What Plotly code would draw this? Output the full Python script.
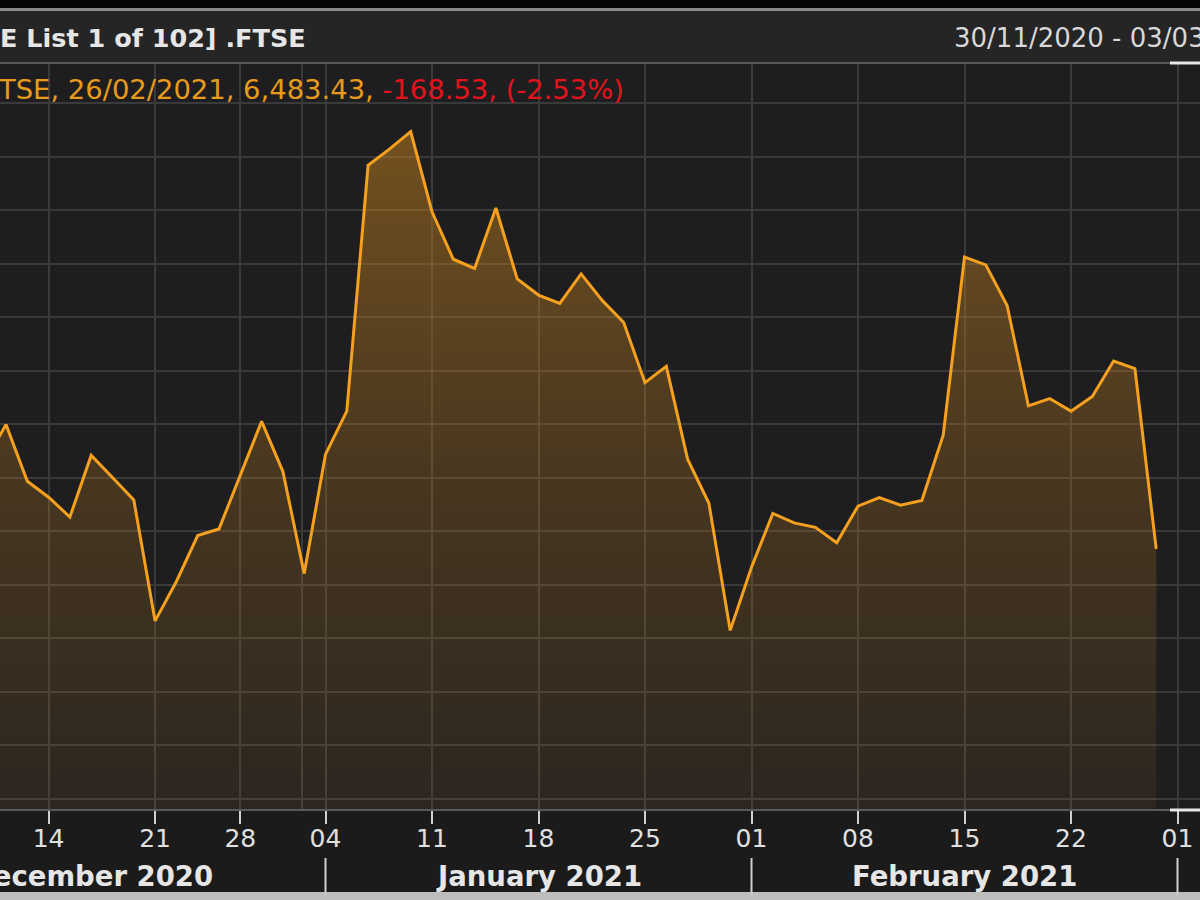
import plotly.graph_objects as go

# ---------------- data ----------------
dates = [
    "2020-12-09", "2020-12-10", "2020-12-11", "2020-12-14", "2020-12-15", "2020-12-16",
    "2020-12-17", "2020-12-18", "2020-12-21", "2020-12-22", "2020-12-23", "2020-12-24",
    "2020-12-28", "2020-12-29", "2020-12-30", "2020-12-31", "2021-01-04", "2021-01-05",
    "2021-01-06", "2021-01-07", "2021-01-08", "2021-01-11", "2021-01-12", "2021-01-13",
    "2021-01-14", "2021-01-15", "2021-01-18", "2021-01-19", "2021-01-20", "2021-01-21",
    "2021-01-22", "2021-01-25", "2021-01-26", "2021-01-27", "2021-01-28", "2021-01-29",
    "2021-02-01", "2021-02-02", "2021-02-03", "2021-02-04", "2021-02-05", "2021-02-08",
    "2021-02-09", "2021-02-10", "2021-02-11", "2021-02-12", "2021-02-15", "2021-02-16",
    "2021-02-17", "2021-02-18", "2021-02-19", "2021-02-22", "2021-02-23", "2021-02-24",
    "2021-02-25", "2021-02-26", "2021-03-01",
]
closes = [
    6564.29, 6599.76, 6546.75, 6531.83, 6513.32, 6570.91,
    6550.23, 6529.18, 6416.32, 6453.16, 6495.99, 6502.11,
    None, 6602.65, 6555.82, 6460.52, 6571.88, 6612.25,
    6841.86, 6856.96, 6873.26, 6798.48, 6754.11, 6745.52,
    6801.96, 6735.71, 6720.65, 6712.95, 6740.39, 6715.42,
    6695.07, 6638.85, 6654.01, 6567.37, 6526.15, 6407.46,
    6466.42, 6516.65, 6507.83, 6503.66, 6489.33, 6523.53,
    6531.57, 6524.36, 6528.72, 6589.79, 6756.11, 6748.86,
    6710.90, 6617.15, 6624.02, 6612.24, 6625.94, 6659.01,
    6651.96, 6483.43, None,
]
tick_dates = ["2020-12-14", "2020-12-21", "2020-12-28", "2021-01-04", "2021-01-11",
              "2021-01-18", "2021-01-25", "2021-02-01", "2021-02-08", "2021-02-15",
              "2021-02-22", "2021-03-01"]
tick_labels = ["14", "21", "28", "04", "11", "18", "25", "01", "08", "15", "22", "01"]
month_labels = ["December 2020", "January 2021", "February 2021"]
month_first_dates = ["2021-01-04", "2021-02-01", "2021-03-01"]  # first session of next month
header_title = "E List 1 of 102] .FTSE"
header_range = "30/11/2020 - 03/03/2021"
info_main = "TSE, 26/02/2021, 6,483.43, "
info_change = "-168.53, (-2.53%)"

# ---------------- layout helpers ----------------
W, H = 1200, 900
idx = {d: i for i, d in enumerate(dates)}
xs = list(range(len(dates)))
PX_PER_DAY = 21.3
X0 = idx["2021-01-04"] - 325.5 / PX_PER_DAY
X1 = X0 + W / PX_PER_DAY
Y_TOP_PX, Y_BOT_PX = 63, 810
Y_LO, Y_HI = 6239.7, 6937.4


def py(px):
    return 1 - px / H


def pxx(px):
    return X0 + px / PX_PER_DAY


fig = go.Figure()
fig.add_trace(go.Scatter(
    x=xs, y=closes, mode="lines", connectgaps=True,
    line=dict(color="#f5a01e", width=3),
    fill="tozeroy",
    fillgradient=dict(type="vertical",
                      colorscale=[[0, "rgba(200,130,30,0.08)"],
                                  [0.5, "rgba(200,130,30,0.25)"],
                                  [1, "rgba(200,130,30,0.5)"]],
                      start=Y_LO, stop=6873.26),
    hoverinfo="skip", showlegend=False,
))

tickvals = [idx[d] for d in tick_dates]

shapes = []
# header blocks
shapes.append(dict(type="rect", xref="paper", yref="paper", x0=0, x1=1, y0=py(8), y1=1,
                   fillcolor="#050505", line_width=0, layer="below"))
shapes.append(dict(type="rect", xref="paper", yref="paper", x0=0, x1=1, y0=py(11), y1=py(8),
                   fillcolor="#8a8a8a", line_width=0, layer="below"))
shapes.append(dict(type="rect", xref="paper", yref="paper", x0=0, x1=1, y0=py(62), y1=py(11),
                   fillcolor="#252525", line_width=0, layer="below"))
# bottom strip
shapes.append(dict(type="rect", xref="paper", yref="paper", x0=0, x1=1, y0=0, y1=py(892),
                   fillcolor="#bdbdbd", line_width=0, layer="below"))
# plot borders
for ypx in (Y_TOP_PX, Y_BOT_PX):
    shapes.append(dict(type="line", xref="paper", yref="paper", x0=0, x1=1170 / W,
                       y0=py(ypx), y1=py(ypx), line=dict(color="#5a5a5a", width=2)))
    shapes.append(dict(type="line", xref="paper", yref="paper", x0=1170 / W, x1=1,
                       y0=py(ypx), y1=py(ypx), line=dict(color="#e8e8e8", width=3)))
# year boundary grid line
shapes.append(dict(type="line", xref="x", yref="paper", x0=pxx(302), x1=pxx(302),
                   y0=py(Y_BOT_PX), y1=py(Y_TOP_PX), line=dict(color="#3a3a3a", width=2),
                   layer="below"))
# month separators in the month label row
for d in month_first_dates:
    shapes.append(dict(type="line", xref="x", yref="paper", x0=idx[d], x1=idx[d],
                       y0=py(895), y1=py(858), line=dict(color="#d0d0d0", width=2)))

annotations = []
annotations.append(dict(text=header_title, xref="paper", yref="paper", x=-0.002, y=py(38),
                        xanchor="left", yanchor="middle", showarrow=False,
                        font=dict(family="DejaVu Sans", size=25.5, color="#e6e6e6", weight="bold")))
annotations.append(dict(text=header_range, xref="paper", yref="paper", x=952 / W, y=py(38),
                        xanchor="left", yanchor="middle", showarrow=False,
                        font=dict(family="DejaVu Sans", size=26, color="#d8d8d8")))
annotations.append(dict(
    text=f"<span style='color:#e89a1c'>{info_main}</span><span style='color:#e5121c'>{info_change}</span>",
    xref="paper", yref="paper", x=-0.003, y=py(89), xanchor="left", yanchor="middle",
    showarrow=False, font=dict(family="DejaVu Sans", size=27.4, color="#e89a1c")))

month_starts = [-6] + [idx[d] for d in month_first_dates]
for i, lab in enumerate(month_labels):
    cx = (month_starts[i] + month_starts[i + 1]) / 2
    annotations.append(dict(text=lab, xref="x", yref="paper", x=cx, y=py(876),
                            xanchor="center", yanchor="middle", showarrow=False,
                            font=dict(family="DejaVu Sans", size=27.5, color="#e6e6e6",
                                      weight="bold")))

fig.update_layout(
    width=W, height=H,
    margin=dict(l=0, r=0, t=0, b=0),
    paper_bgcolor="#1b1b1b",
    plot_bgcolor="#1e1e20",
    shapes=shapes,
    annotations=annotations,
    xaxis=dict(range=[X0, X1], domain=[0, 1], tickmode="array", tickvals=tickvals,
               ticktext=tick_labels, showgrid=True, gridcolor="#3a3a3a", gridwidth=2,
               zeroline=False, showline=False, ticks="outside", ticklen=13, tickwidth=2,
               tickcolor="#d0d0d0", ticklabelstandoff=-7,
               tickfont=dict(family="DejaVu Sans", size=25, color="#e0e0e0")),
    yaxis=dict(range=[Y_LO, Y_HI], domain=[py(Y_BOT_PX), py(Y_TOP_PX)],
               tick0=6250, dtick=50, showgrid=True, gridcolor="#3a3a3a", gridwidth=2,
               showticklabels=False, zeroline=False, showline=False, ticks=""),
)

fig.write_html("out.html", config={"displayModeBar": False},
               post_script="document.body.style.margin='0px';document.body.style.overflow='hidden';")
